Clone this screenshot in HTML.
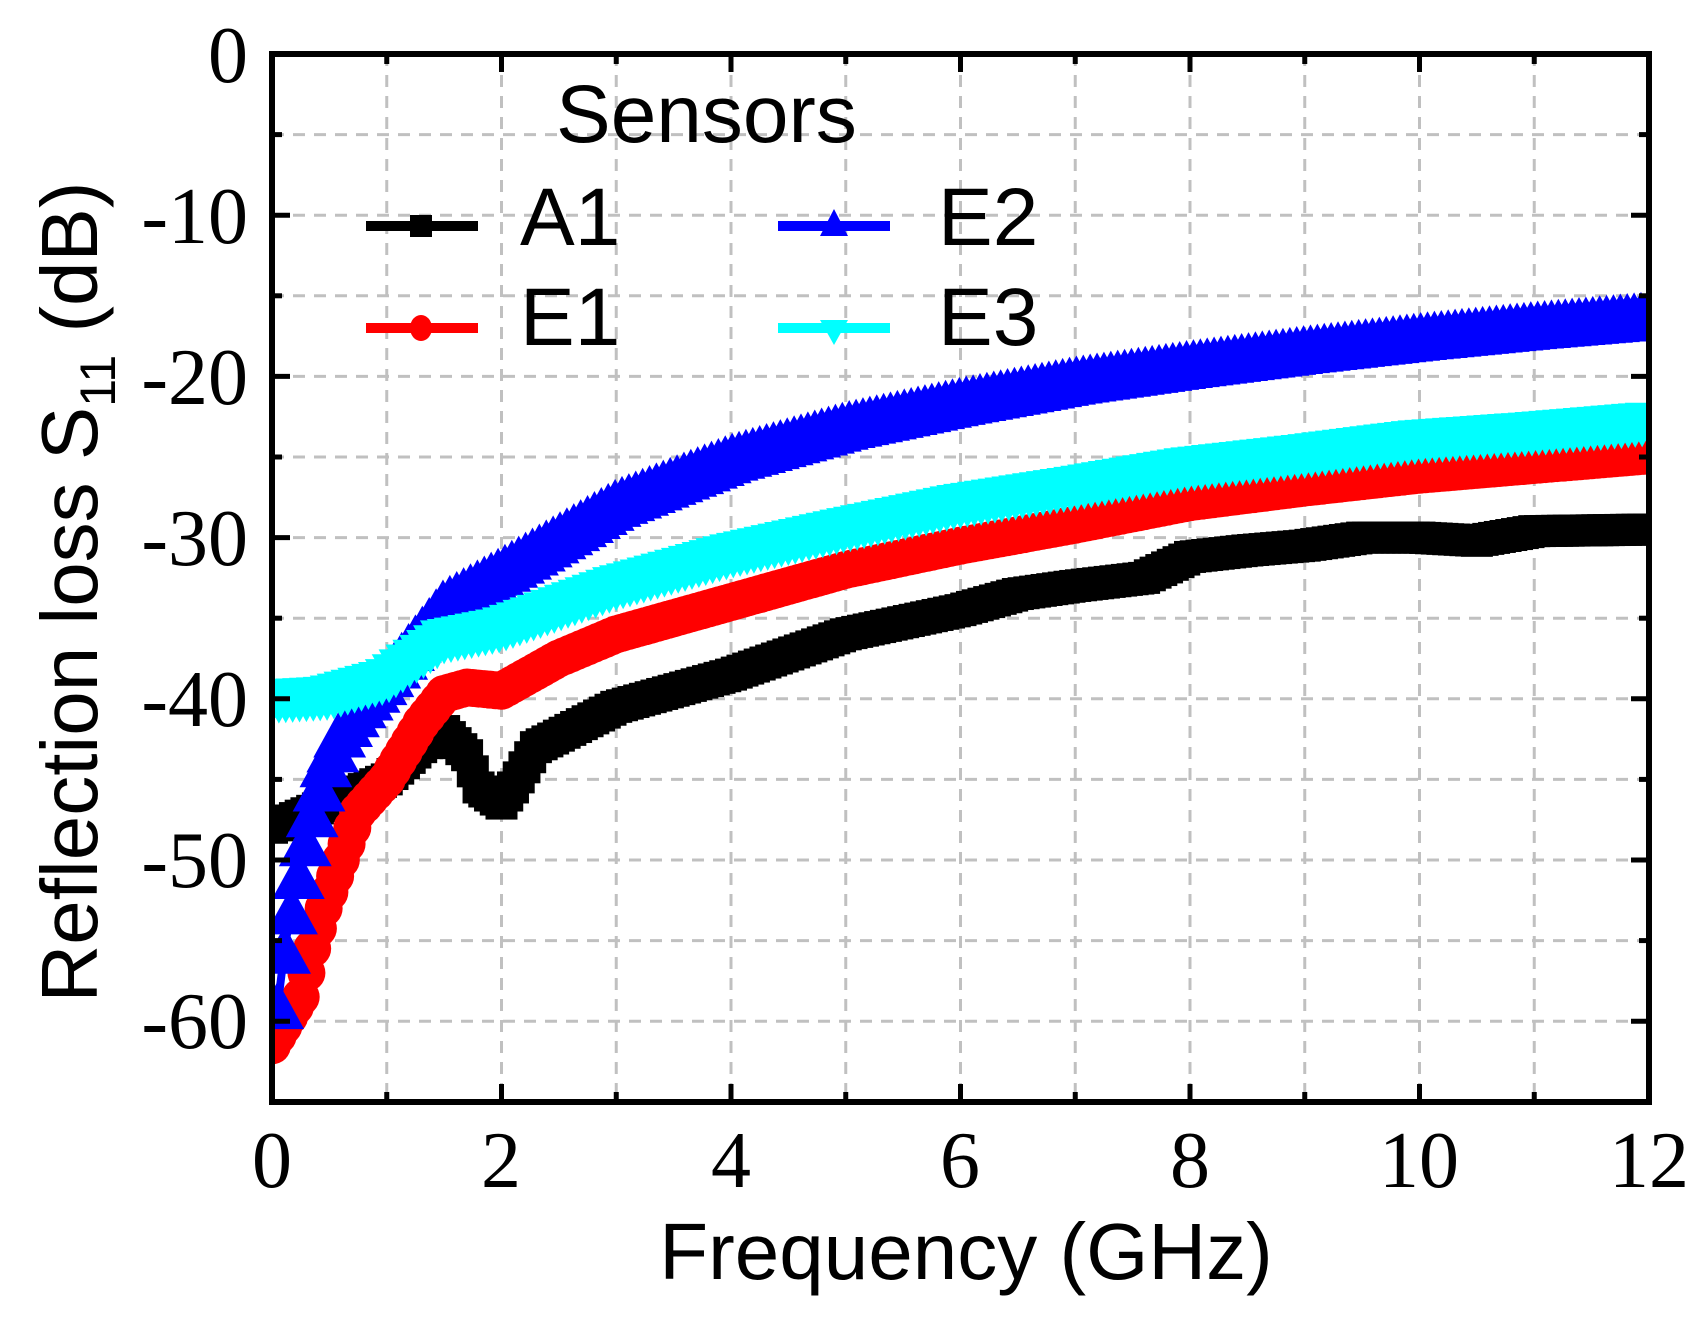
<!DOCTYPE html>
<html><head><meta charset="utf-8"><style>
html,body{margin:0;padding:0;background:#fff}
svg{display:block}
.tk{font-family:"Liberation Serif",serif;font-size:80px;fill:#000}
.sn{font-family:"Liberation Sans",sans-serif;fill:#000}
</style></head><body>
<svg id="s" width="1703" height="1318" viewBox="0 0 1703 1318" xmlns="http://www.w3.org/2000/svg">
<defs><clipPath id="cp"><rect x="272" y="54" width="1377" height="1048"/></clipPath></defs>
<g id="grid" stroke="#c0c0c0" stroke-width="3" stroke-dasharray="12,9" fill="none"></g>
<g id="series" clip-path="url(#cp)"></g>
<g id="axes"></g>
<g class="tk" text-anchor="end">
<text x="248" y="82">0</text>
<text x="248" y="243">-10</text>
<text x="248" y="404">-20</text>
<text x="248" y="565">-30</text>
<text x="248" y="726">-40</text>
<text x="248" y="887">-50</text>
<text x="248" y="1048">-60</text>
</g>
<g class="tk" text-anchor="middle">
<text x="272" y="1187">0</text>
<text x="501" y="1187">2</text>
<text x="731" y="1187">4</text>
<text x="960" y="1187">6</text>
<text x="1190" y="1187">8</text>
<text x="1419" y="1187">10</text>
<text x="1649" y="1187">12</text>
</g>
<text class="sn" x="966" y="1279" font-size="80" text-anchor="middle">Frequency (GHz)</text>
<text class="sn" transform="translate(97,592) rotate(-90)" font-size="80" text-anchor="middle">Reflection loss S<tspan font-size="50" dy="18">11</tspan><tspan dy="-18"> (dB)</tspan></text>
<text class="sn" x="556" y="142" font-size="82">Sensors</text>
<line x1="366" y1="226" x2="478" y2="226" stroke="#000" stroke-width="10"/>
<rect x="410" y="215" width="22" height="22" fill="#000"/>
<text class="sn" x="520" y="245" font-size="82">A1</text>
<line x1="366" y1="328" x2="478" y2="328" stroke="#f00" stroke-width="10"/>
<ellipse cx="421" cy="328" rx="11" ry="13" fill="#f00"/>
<text class="sn" x="520" y="345" font-size="82">E1</text>
<line x1="778" y1="226" x2="890" y2="226" stroke="#00f" stroke-width="10"/>
<polygon points="834,209 848,236 820,236" fill="#00f"/>
<text class="sn" x="938" y="245" font-size="82">E2</text>
<line x1="778" y1="328" x2="890" y2="328" stroke="#0ff" stroke-width="10"/>
<polygon points="820,320 848,320 834,345" fill="#0ff"/>
<text class="sn" x="938" y="345" font-size="82">E3</text>
</svg>
<script>
var NS="http://www.w3.org/2000/svg";
function X(f){return 272+114.75*f}
function Y(d){return 54-16.12*d}
function el(p,t,a){var e=document.createElementNS(NS,t);for(var k in a)e.setAttribute(k,a[k]);p.appendChild(e);return e}
var g=document.getElementById('grid');
for(var i=1;i<12;i++)el(g,'line',{x1:X(i),y1:54,x2:X(i),y2:1102});
for(var d=-5;d>=-60;d-=5)el(g,'line',{x1:272,y1:Y(d),x2:1649,y2:Y(d)});
var ax=document.getElementById('axes');
el(ax,'rect',{x:272,y:54,width:1377,height:1048,fill:'none',stroke:'#000','stroke-width':6});
for(var i=1;i<12;i++){var L=i%2?10:18;
 el(ax,'line',{x1:X(i),y1:1102,x2:X(i),y2:1102-L,stroke:'#000','stroke-width':5});
 el(ax,'line',{x1:X(i),y1:54,x2:X(i),y2:54+L,stroke:'#000','stroke-width':5});}
for(var d=-5;d>=-60;d-=5){var L=(d%10)?10:18;
 el(ax,'line',{x1:272,y1:Y(d),x2:272+L,y2:Y(d),stroke:'#000','stroke-width':5});
 el(ax,'line',{x1:1649,y1:Y(d),x2:1649-L,y2:Y(d),stroke:'#000','stroke-width':5});}
function interp(pts,f){for(var i=0;i<pts.length-1;i++){if(f<=pts[i+1][0]){var a=pts[i],b=pts[i+1];return a[1]+(b[1]-a[1])*(f-a[0])/(b[0]-a[0])}}return pts[pts.length-1][1]}
var A1=[[0,-48],[0.5,-46.5],[1,-45],[1.3,-43],[1.5,-42],[1.7,-43.5],[1.8,-45.5],[2.0,-46.5],[2.1,-45.5],[2.3,-43],[3,-40.5],[4,-38.5],[5,-36],[6,-34.5],[6.5,-33.5],[7,-33],[7.6,-32.5],[8,-31.2],[8.5,-30.8],[9,-30.5],[9.5,-30],[10,-30],[10.5,-30.2],[11,-29.6],[12,-29.5]];
var E1=[[0,-61.5],[0.25,-58.5],[0.35,-55.5],[0.45,-53],[0.55,-51],[0.75,-47],[1,-45],[1.3,-41.5],[1.5,-39.7],[1.7,-39.3],[2,-39.5],[2.5,-37.5],[3,-36],[4,-34],[5,-32],[6,-30.5],[7,-29.2],[8,-27.8],[9,-26.9],[10,-26.1],[11,-25.5],[12,-24.9]];
var E2=[[0.05,-59],[0.12,-55],[0.2,-52],[0.27,-49.5],[0.37,-46.5],[0.47,-44],[0.6,-42],[0.75,-40.5],[1,-38.5],[1.5,-34],[2,-32],[3,-27.8],[4,-25],[5,-23],[6,-21.5],[7,-20.2],[8,-19.2],[9,-18.3],[10,-17.5],[11,-16.8],[12,-16.2]];
var E3=[[0,-40.2],[0.5,-40],[1,-39],[1.5,-36.5],[2,-35.8],[3,-33.2],[4,-31.2],[5,-29.6],[6,-28.1],[7,-27],[8,-25.8],[9,-25],[10,-24.1],[11,-23.6],[12,-23]];
var S=document.getElementById('series');
function line(pts,col,w){var s='';for(var f=pts[0][0];f<=12.001;f+=0.02)s+=X(f).toFixed(1)+','+Y(interp(pts,f)).toFixed(1)+' ';
 el(S,'polyline',{points:s,fill:'none',stroke:col,'stroke-width':w,'stroke-linejoin':'round'});}
function marks(pts,col,type,sz,step){var g=el(S,'g',{fill:col});
 for(var f=pts[0][0];f<=12.001;f+=step){var x=X(f),y=Y(interp(pts,f)),h=sz/2;
  if(type=='sq')el(g,'rect',{x:x-h,y:y-h,width:sz,height:sz});
  else if(type=='c')el(g,'circle',{cx:x,cy:y,r:h});
  else if(type=='t')el(g,'polygon',{points:x+','+(y-h)+' '+(x+h*1.1)+','+(y+h)+' '+(x-h*1.1)+','+(y+h)});
  else el(g,'polygon',{points:(x-h*1.1)+','+(y-h)+' '+(x+h*1.1)+','+(y-h)+' '+x+','+(y+h)});}}
line(A1,'#000',8);marks(A1,'#000','sq',32,0.05);
line(E1,'#f00',8);marks(E1,'#f00','c',38,0.05);
line(E2,'#00f',8);marks(E2,'#00f','t',48,0.06);
line(E3,'#0ff',8);marks(E3,'#0ff','v',44,0.06);
</script>
</body></html>
